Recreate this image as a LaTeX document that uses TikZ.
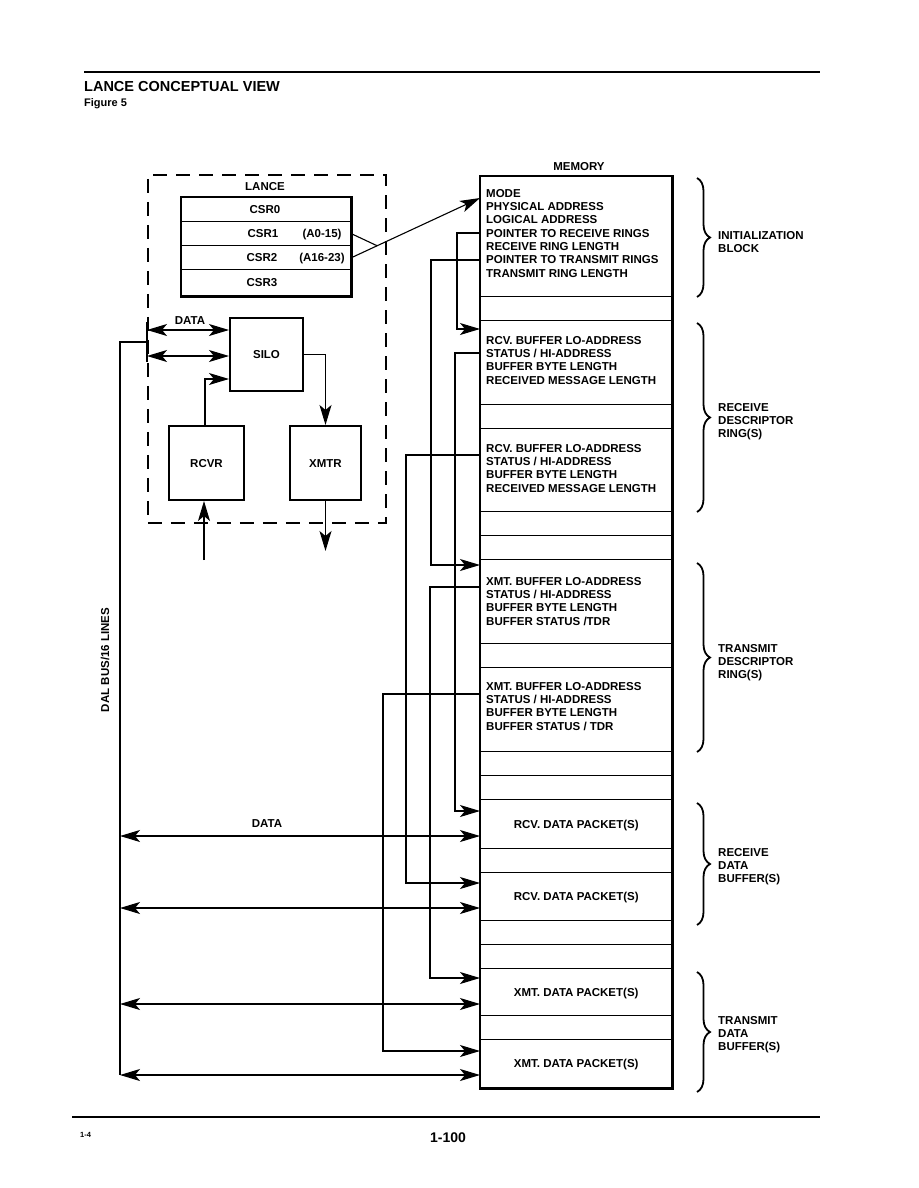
\documentclass[tikz,border=0pt]{standalone}
\usepackage{fontspec}
\setmainfont{Liberation Sans}
\usetikzlibrary{arrows.meta,decorations.pathreplacing,calc}
\begin{document}
\begin{tikzpicture}[x=1pt,y=-1pt,
  >={Stealth[length=20pt,width=12pt,inset=5pt]},
  lf/.style={font=\bfseries\fontsize{11.5}{13.3}\selectfont},
  lbl/.style={lf, inner sep=0pt, text height=8.2pt, text depth=0pt},
  blk/.style={lf, inner sep=0pt, anchor=north west, align=left},
  memrow/.style={draw, line width=1.4pt, minimum width=191pt, inner sep=0pt, anchor=north west},
  csrrow/.style={draw, line width=1.4pt, minimum width=169pt, inner sep=0pt, anchor=north west},
  blockbox/.style={draw, line width=2pt, inner sep=0pt, anchor=north west, lf, text height=8.2pt, text depth=0pt},
  conn/.style={line width=1.1pt},
  arr/.style={conn, ->},
  darr/.style={conn, <->},
  brc/.style={decorate, decoration={brace, amplitude=13pt}, line width=1.8pt},
  dashbox/.style={draw, line width=1.6pt, dash pattern=on 14pt off 9pt, inner sep=0pt, anchor=north west},
]
\useasboundingbox (0,0) rectangle (918,1188);

% header and footer
\draw[line width=1.5pt] (84,72) -- (820,72);
\node[font=\bfseries\fontsize{14.5}{16}\selectfont, inner sep=0pt, text height=10.4pt, text depth=0pt, anchor=west] (title) at (84,86) {LANCE CONCEPTUAL VIEW};
\node[font=\bfseries\fontsize{11}{13}\selectfont, inner sep=0pt, text height=7.9pt, text depth=0pt, anchor=west] (fig) at (84,103) {Figure 5};
\draw[line width=1.5pt] (72,1117) -- (820,1117);
\node[font=\bfseries\fontsize{7.5}{9}\selectfont, inner sep=0pt, text height=5.4pt, text depth=0pt, anchor=west] (pg1) at (80,1135) {1-4};
\node[font=\bfseries\fontsize{14}{16}\selectfont, inner sep=0pt, text height=10pt, text depth=0pt] (pg2) at (448,1137) {1-100};

% LANCE block
\node[dashbox, minimum width=238pt, minimum height=348pt] (lance) at (147,174) {};
\node[lbl] (lancelbl) at (265,186) {LANCE};
\node[csrrow, minimum height=24pt] (csr0) at (181,197) {};
\node[csrrow, minimum height=24pt] (csr1) at (181,221) {};
\node[csrrow, minimum height=24pt] (csr2) at (181,245) {};
\node[csrrow, minimum height=26pt] (csr3) at (181,269) {};
\draw[line width=2.2pt] (csr0.north west) rectangle (csr3.south east);
\node[lbl] (l-csr0) at (265,209) {CSR0};
\node[lbl] (l-csr1) at (263,233) {CSR1};
\node[lbl] (l-a015) at (322,233) {(A0-15)};
\node[lbl] (l-csr2) at (262,257) {CSR2};
\node[lbl] (l-a1623) at (322,257) {(A16-23)};
\node[lbl] (l-csr3) at (262,282) {CSR3};

\node[blockbox, minimum width=73pt, minimum height=73pt] (silo) at (229,317) {SILO};
\node[blockbox, minimum width=75pt, minimum height=74pt] (rcvr) at (168,425) {RCVR};
\node[blockbox, minimum width=71pt, minimum height=74pt] (xmtr) at (289,425) {XMTR};
\node[lbl] (datalbl1) at (190,320) {DATA};

% memory
\node[lbl] (memlbl) at (579,166) {MEMORY};
\foreach \n/\t/\b in {init/176/296, b1/296/320, rd1/320/404, b2/404/428, rd2/428/511,
  b3/511/535, b4/535/559, xd1/559/643, b5/643/667, xd2/667/751, b6/751/775, b7/775/799,
  rp1/799/848, b8/848/872, rp2/872/920, b9/920/944, b10/944/968, xp1/968/1015,
  b11/1015/1039, xp2/1039/1087}
  \node[memrow, minimum height={\b-\t}] (r-\n) at (480,\t) {};
\draw[line width=2.2pt] (r-init.north west) rectangle (r-xp2.south east);

\node[blk] (t-init) at (486,189) {MODE\\PHYSICAL ADDRESS\\LOGICAL ADDRESS\\POINTER TO RECEIVE RINGS\\RECEIVE RING LENGTH\\POINTER TO TRANSMIT RINGS\\TRANSMIT RING LENGTH};
\node[blk] (t-rd1) at (486,336) {RCV. BUFFER LO-ADDRESS\\STATUS / HI-ADDRESS\\BUFFER BYTE LENGTH\\RECEIVED MESSAGE LENGTH};
\node[blk] (t-rd2) at (486,444) {RCV. BUFFER LO-ADDRESS\\STATUS / HI-ADDRESS\\BUFFER BYTE LENGTH\\RECEIVED MESSAGE LENGTH};
\node[blk] (t-xd1) at (486,577) {XMT. BUFFER LO-ADDRESS\\STATUS / HI-ADDRESS\\BUFFER BYTE LENGTH\\BUFFER STATUS /TDR};
\node[blk] (t-xd2) at (486,682) {XMT. BUFFER LO-ADDRESS\\STATUS / HI-ADDRESS\\BUFFER BYTE LENGTH\\BUFFER STATUS / TDR};
\node[lbl] (t-rp1) at (r-rp1.center) {RCV. DATA PACKET(S)};
\node[lbl] (t-rp2) at (r-rp2.center) {RCV. DATA PACKET(S)};
\node[lbl] (t-xp1) at (r-xp1.center) {XMT. DATA PACKET(S)};
\node[lbl] (t-xp2) at (r-xp2.center) {XMT. DATA PACKET(S)};

% braces and side labels
\draw[brc] (697,178) -- (697,297);
\draw[brc] (697,323) -- (697,512);
\draw[brc] (697,563) -- (697,752);
\draw[brc] (697,803) -- (697,925);
\draw[brc] (697,972) -- (697,1092);
\node[blk] (s-init) at (718,231) {INITIALIZATION\\BLOCK};
\node[blk] (s-rdr) at (718,403) {RECEIVE\\DESCRIPTOR\\RING(S)};
\node[blk] (s-tdr) at (718,644) {TRANSMIT\\DESCRIPTOR\\RING(S)};
\node[blk] (s-rdb) at (718,848) {RECEIVE\\DATA\\BUFFER(S)};
\node[blk] (s-tdb) at (718,1016) {TRANSMIT\\DATA\\BUFFER(S)};

% CSR to init block
\coordinate (csrtip) at ($(r-init.north west)+(0,22)$);
\coordinate (csrmerge) at ($(csr2.east)!0.2!(csrtip)$);
\draw[arr] (csr2.east) -- (csrtip);
\draw[conn] (csr1.east) -- (csrmerge);

% LANCE internal connections
\coordinate (busjoin) at (147,342);
\coordinate (bustop) at (120,342);
\draw[conn] (147,322) -- (147,362);
\coordinate (sd1) at ($(silo.north west)+(0,13)$);
\coordinate (sd2) at ($(silo.north west)+(0,39)$);
\coordinate (sd3) at ($(silo.north west)+(0,62)$);
\draw[darr] (lance.west |- sd1) -- (sd1);
\draw[darr] (lance.west |- sd2) -- (sd2);
\draw[arr] ($(rcvr.north)+(-1.5,0)$) |- (sd3);
\draw[arr] (silo.east) -| (xmtr.north);
\coordinate (rin) at (204,560);
\draw[arr] (rin) -- (rin |- rcvr.south);
\coordinate (xout) at ($(xmtr.south)+(0,50)$);
\draw[arr] (xmtr.south) -- (xout);

% pointer connectors
\draw[arr] ($(r-init.north west)+(0,57)$) -- ++(-23,0) |- ($(r-rd1.north west)+(0,9)$);
\draw[arr] ($(r-init.north west)+(0,84)$) -- ++(-49,0) |- ($(r-xd1.north west)+(0,6)$);
\draw[arr] ($(r-rd1.north west)+(0,33)$) -- ++(-25,0) |- ($(r-rp1.north west)+(0,12)$);
\draw[arr] ($(r-rd2.north west)+(0,27)$) -- ++(-74,0) |- ($(r-rp2.north west)+(0,11)$);
\draw[arr] ($(r-xd1.north west)+(0,28)$) -- ++(-50,0) |- ($(r-xp1.north west)+(0,10)$);
\draw[arr] ($(r-xd2.north west)+(0,27)$) -- ++(-97,0) |- ($(r-xp2.north west)+(0,12)$);

% DAL bus and data arrows
\coordinate (d1) at ($(r-rp1.north west)+(0,37)$);
\coordinate (d2) at ($(r-rp2.north west)+(0,36)$);
\coordinate (d3) at ($(r-xp1.north west)+(0,36)$);
\coordinate (d4) at ($(r-xp2.north west)+(0,36)$);
\draw[conn] (busjoin) -- (bustop) -- (bustop |- d4);
\draw[darr] (bustop |- d1) -- (d1);
\draw[darr] (bustop |- d2) -- (d2);
\draw[darr] (bustop |- d3) -- (d3);
\draw[darr] (bustop |- d4) -- (d4);
\node[lbl] (datalbl2) at (267,823) {DATA};
\node[lbl, rotate=90] (dal) at (105,660) {DAL BUS/16 LINES};
\end{tikzpicture}
\end{document}
